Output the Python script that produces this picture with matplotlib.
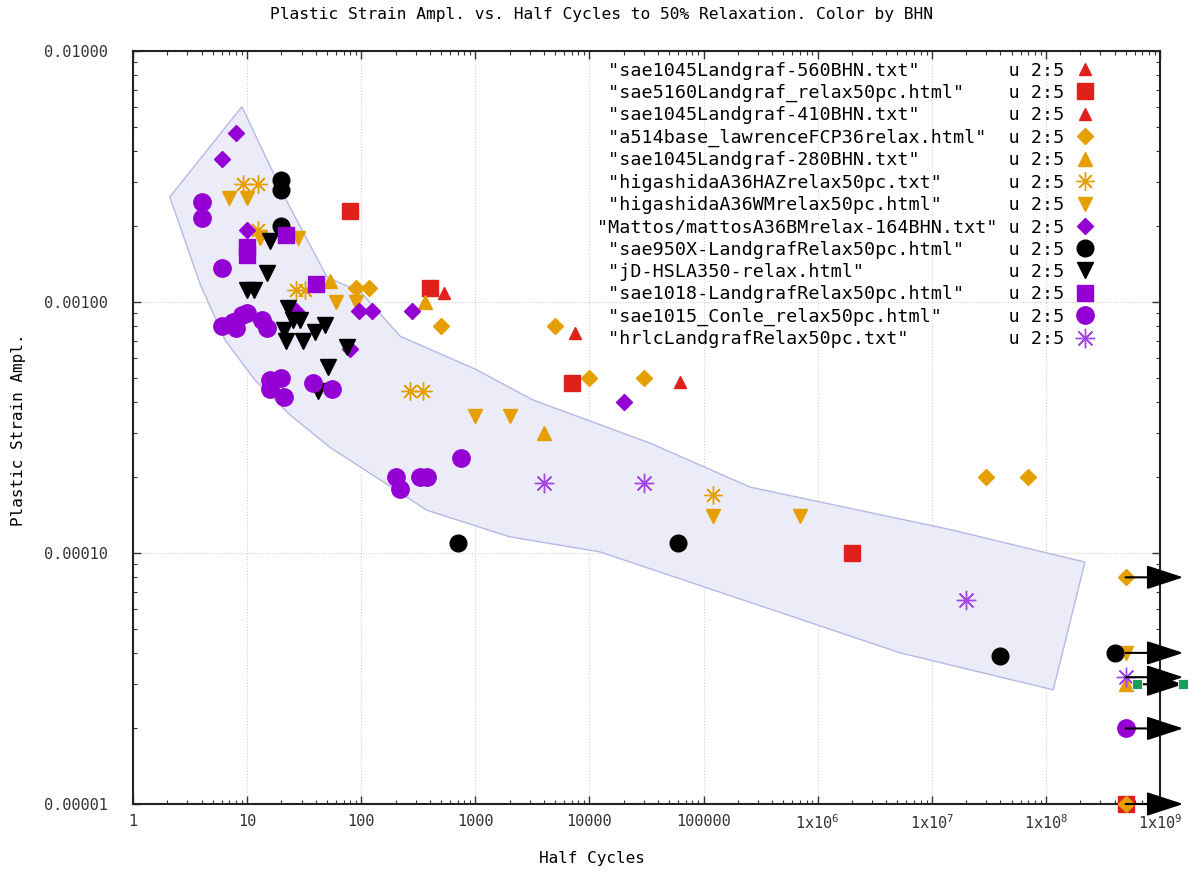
import matplotlib
matplotlib.use('Agg')
import matplotlib.pyplot as plt
from matplotlib.ticker import FixedLocator, LogLocator, NullFormatter

plt.rcParams['font.family'] = 'DejaVu Sans Mono'
plt.rcParams['mathtext.fontset'] = 'custom'
plt.rcParams['mathtext.rm'] = 'DejaVu Sans Mono'
plt.rcParams['mathtext.it'] = 'DejaVu Sans Mono'

RED = '#e0201b'
ORANGE = '#e69f00'
PURPLE = '#9400d3'
LILAC = '#a545e6'
GREEN = '#1a9e5c'

# ---- data (half cycles, plastic strain amplitude) ----
s560_x = [7500, 62000]
s560_y = [7.5e-4, 4.8e-4]

s5160_x = [80, 400, 7100, 2.0e6, 5e8]
s5160_y = [2.3e-3, 1.14e-3, 4.75e-4, 1.0e-4, 1e-5]

s410_x = [530]
s410_y = [1.09e-3]

a514_x = [90, 117, 500, 5000, 10000, 30000, 3e7, 7e7, 5e8, 5e8]
a514_y = [1.14e-3, 1.14e-3, 8.0e-4, 8.0e-4, 5.0e-4, 5.0e-4, 2.0e-4, 2.0e-4, 8e-5, 1e-5]

s280_x = [53, 360, 4000, 5e8]
s280_y = [1.21e-3, 1.0e-3, 3.0e-4, 3e-5]

haz_x = [9.2, 12.4, 12.5, 27, 32, 270, 350, 1.2e5]
haz_y = [2.95e-3, 2.95e-3, 1.94e-3, 1.12e-3, 1.12e-3, 4.4e-4, 4.4e-4, 1.7e-4]

wm_x = [7, 10, 13, 28, 60, 90, 1000, 2000, 1.2e5, 7e5, 5e8]
wm_y = [2.6e-3, 2.6e-3, 1.8e-3, 1.8e-3, 1.0e-3, 1.0e-3, 3.5e-4, 3.5e-4, 1.4e-4, 1.4e-4, 4e-5]

mattos_x = [8, 6, 10, 27, 95, 125, 280, 80, 20000]
mattos_y = [4.7e-3, 3.7e-3, 1.94e-3, 9.2e-4, 9.2e-4, 9.2e-4, 9.2e-4, 6.5e-4, 4.0e-4]

s950_x = [20, 20, 20, 700, 60000, 4e7, 4e8]
s950_y = [3.05e-3, 2.8e-3, 2.0e-3, 1.1e-4, 1.1e-4, 3.9e-5, 4e-5]

hsla_x = [16, 15, 10, 11.5, 23, 25, 29, 21, 22, 31, 39, 48, 75, 51, 42]
hsla_y = [1.75e-3, 1.3e-3, 1.12e-3, 1.12e-3, 9.5e-4, 8.5e-4, 8.5e-4, 7.7e-4,
          7.0e-4, 7.0e-4, 7.6e-4, 8.1e-4, 6.6e-4, 5.5e-4, 4.4e-4]

s1018_x = [10, 10, 22, 40]
s1018_y = [1.66e-3, 1.54e-3, 1.85e-3, 1.18e-3]

s1015_x = [4, 4, 6, 6, 7.5, 8, 9, 10, 13.5, 15, 16, 20, 16, 21, 38, 55,
           750, 200, 220, 330, 380, 5e8]
s1015_y = [2.5e-3, 2.16e-3, 1.36e-3, 8.0e-4, 8.3e-4, 7.9e-4, 8.9e-4, 9.0e-4,
           8.5e-4, 7.9e-4, 4.9e-4, 5.0e-4, 4.5e-4, 4.2e-4, 4.75e-4, 4.5e-4,
           2.4e-4, 2.0e-4, 1.8e-4, 2.0e-4, 2.0e-4, 2e-5]

hrlc_x = [4000, 30000, 2e7, 5e8]
hrlc_y = [1.9e-4, 1.9e-4, 6.5e-5, 3.2e-5]

extra_x = [6.3e8, 1.6e9]
extra_y = [3e-5, 3e-5]

# runouts: arrows pointing right
runout_x = [5e8, 5e8, 5e8, 6.3e8, 5e8, 5e8]
runout_y = [8e-5, 4e-5, 3.2e-5, 3e-5, 2e-5, 1e-5]
runout_tip = 1.6e9

# scatter band
band_x = [9, 22, 50, 100, 220, 1000, 3200, 34000, 2.56e5, 1.45e7, 2.2e8,
          1.16e8, 5.3e6, 12400, 2000, 377, 53, 23.8, 11.7, 6.4, 3.9, 2.1]
band_y = [6.0e-3, 2.55e-3, 1.26e-3, 1.09e-3, 7.3e-4, 5.4e-4, 4.07e-4, 2.74e-4,
          1.83e-4, 1.24e-4, 9.2e-5, 2.85e-5, 4.0e-5, 1.01e-4, 1.16e-4, 1.48e-4,
          2.64e-4, 3.55e-4, 4.89e-4, 7.06e-4, 1.17e-3, 2.62e-3]

names = ['"sae1045Landgraf-560BHN.txt"',
         '"sae5160Landgraf_relax50pc.html"',
         '"sae1045Landgraf-410BHN.txt"',
         '"a514base_lawrenceFCP36relax.html"',
         '"sae1045Landgraf-280BHN.txt"',
         '"higashidaA36HAZrelax50pc.txt"',
         '"higashidaA36WMrelax50pc.html"',
         '"Mattos/mattosA36BMrelax-164BHN.txt"',
         '"sae950X-LandgrafRelax50pc.html"',
         '"jD-HSLA350-relax.html"',
         '"sae1018-LandgrafRelax50pc.html"',
         '"sae1015_Conle_relax50pc.html"',
         '"hrlcLandgrafRelax50pc.txt"']

series = [
    (s560_x, s560_y, dict(marker='^', ms=9, color=RED)),
    (s5160_x, s5160_y, dict(marker='s', ms=12, color=RED)),
    (s410_x, s410_y, dict(marker='^', ms=9, color=RED)),
    (a514_x, a514_y, dict(marker='D', ms=8.5, color=ORANGE)),
    (s280_x, s280_y, dict(marker='^', ms=10, color=ORANGE)),
    (haz_x, haz_y, dict(marker=(8, 2, 0), ms=13, mew=1.0, color=ORANGE)),
    (wm_x, wm_y, dict(marker='v', ms=10.5, color=ORANGE)),
    (mattos_x, mattos_y, dict(marker='D', ms=8.5, color=PURPLE)),
    (s950_x, s950_y, dict(marker='o', ms=12, color='black')),
    (hsla_x, hsla_y, dict(marker='v', ms=11, color='black')),
    (s1018_x, s1018_y, dict(marker='s', ms=12, color=PURPLE)),
    (s1015_x, s1015_y, dict(marker='o', ms=12.5, color=PURPLE)),
    (hrlc_x, hrlc_y, dict(marker=(8, 2, 0), ms=14, mew=1.0, color=LILAC)),
]

fig = plt.figure(figsize=(12.03, 8.73), dpi=100)
ax = fig.add_axes([133 / 1203, 1 - 804 / 873, 1027 / 1203, 753 / 873])
ax.set_xscale('log')
ax.set_yscale('log')
ax.set_xlim(1, 1e9)
ax.set_ylim(1e-5, 1e-2)

ax.fill(band_x, band_y, facecolor='#ececf9', edgecolor='#b4b9e6', lw=1.0, zorder=1)

for (x, y, st), nm in zip(series, names):
    lead = '' if nm.startswith('"Mattos') else ' '
    label = (lead + nm).ljust(37) + 'u 2:5'
    ax.plot(x, y, linestyle='none', label=label, zorder=3, clip_on=False, **st)

for x0, y0 in zip(runout_x, runout_y):
    ax.annotate('', xy=(runout_tip, y0), xytext=(x0, y0), annotation_clip=False,
                arrowprops=dict(arrowstyle='-|>,head_length=2.3,head_width=0.75',
                                mutation_scale=10, color='black', lw=1.5,
                                shrinkA=0, shrinkB=0), zorder=4)

ax.plot(extra_x, extra_y, linestyle='none', marker='s', ms=7, color=GREEN,
        mec='white', mew=0.6, zorder=5, clip_on=False)

# axes styling, gnuplot-like
xt = [10.0 ** k for k in range(10)]
xlabels = ['1', '10', '100', '1000', '10000', '100000',
           r'1x10$^{6}$', r'1x10$^{7}$', r'1x10$^{8}$', r'1x10$^{9}$']
yt = [1e-5, 1e-4, 1e-3, 1e-2]
ylabels = ['0.00001', '0.00010', '0.00100', '0.01000']
ax.xaxis.set_major_locator(FixedLocator(xt))
ax.set_xticklabels(xlabels)
ax.yaxis.set_major_locator(FixedLocator(yt))
ax.set_yticklabels(ylabels)
ax.xaxis.set_minor_locator(LogLocator(base=10, subs=range(2, 10), numticks=20))
ax.yaxis.set_minor_locator(LogLocator(base=10, subs=range(2, 10), numticks=20))
ax.xaxis.set_minor_formatter(NullFormatter())
ax.yaxis.set_minor_formatter(NullFormatter())
ax.tick_params(which='both', direction='in', top=True, right=True, labelsize=11, colors='#333333')
ax.tick_params(which='major', length=6, width=1.0, pad=7)
ax.tick_params(axis='y', which='major', pad=18)
ax.tick_params(which='minor', length=3, width=0.8)
for sp in ax.spines.values():
    sp.set_linewidth(1.5)
    sp.set_color('#222222')
ax.grid(which='major', color='#d0d0d0', linestyle=':', linewidth=0.8, zorder=0)
ax.set_axisbelow(True)

ax.set_xlabel('Half Cycles', fontsize=11.5)
ax.set_ylabel('Plastic Strain Ampl.', fontsize=11.5)
ax.xaxis.set_label_coords(0.447, -0.0625)
ax.yaxis.set_label_coords(-0.104, 0.497)
fig.text(0.5, 1 - 15 / 873, 'Plastic Strain Ampl. vs. Half Cycles to 50% Relaxation. Color by BHN',
         ha='center', va='center', fontsize=11.7)

leg = ax.legend(loc='upper right', bbox_to_anchor=(0.9404, 0.986), markerfirst=False,
                frameon=False, fontsize=13.2, handlelength=1.5, handletextpad=0.4,
                borderpad=0, borderaxespad=0, labelspacing=0.235, numpoints=1)

fig.savefig('out.png', dpi=100)
